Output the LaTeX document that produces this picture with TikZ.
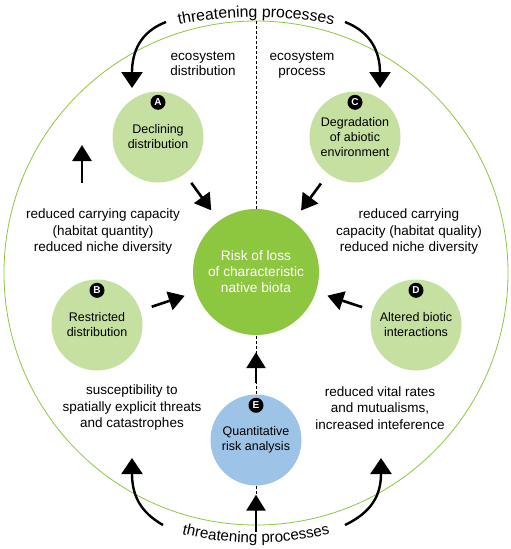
\documentclass[tikz,border=0pt]{standalone}
\usepackage{fontspec}
\setmainfont{Liberation Sans}
\usetikzlibrary{arrows.meta,decorations.text}
\definecolor{cLeaf}{RGB}{141,198,63}
\definecolor{cPale}{RGB}{197,224,160}
\definecolor{cSky}{RGB}{157,195,230}

\begin{document}
\begin{tikzpicture}[x=1pt, y=-1pt]
\useasboundingbox (0,0) rectangle (511,549);

% Styles.
\tikzset{
  ring/.style={circle, draw=cLeaf, line width=0.8pt, minimum size=504pt, inner sep=0pt},
  stage/.style={circle, fill=cPale, minimum size=91pt, inner sep=0pt, align=center, font=\fontsize{12.5}{15}\selectfont},
  core/.style={circle, fill=cLeaf, text=white, minimum size=126pt, inner sep=0pt, align=center, font=\fontsize{13.7}{16}\selectfont},
  tag/.style={circle, fill=black, text=white, minimum size=15pt, inner sep=0pt, font=\bfseries\fontsize{10}{10}\selectfont},
  note/.style={align=center, font=\fontsize{13.5}{16.5}\selectfont},
  push/.style={-{Triangle[length=16pt,width=19pt]}, line width=2.6pt},
  curl/.style={-{Triangle[length=16pt,width=21pt]}, line width=2.4pt},
  axis/.style={line width=0.9pt, dash pattern=on 3pt off 2pt}
}

% Outer ring and dashed axis.
\node (ring) [ring] at (256,273) {};
\draw[axis] (ring.north) -- (ring.south);

% Circles.
\node (risk) [core] at (256,272) {Risk of loss\\of characteristic\\native biota};
\node (A) [stage] at (158,137) {Declining\\distribution};
\node (C) [stage] at (355,137) {Degradation\\of abiotic\\environment};
\node (B) [stage] at (97,325) {Restricted\\distribution};
\node (D) [stage] at (416,325) {Altered biotic\\interactions};
\node (E) [stage, fill=cSky] at (256,440) {Quantitative\\risk analysis};

% Letter tags.
\foreach \n in {A,B,C,D,E}{
  \node[tag] (tag\n) at ([yshift=-11pt]\n.north) {\n};
}

% Side notes.
\node (distNote)   [note, font=\fontsize{13.5}{15}\selectfont] at (203,64) {ecosystem\\distribution};
\node (procNote)   [note, font=\fontsize{13.5}{15}\selectfont] at (302,65.5) {ecosystem\\process};
\node (quantNote)  [note] at (103,232) {reduced carrying capacity\\(habitat quantity)\\reduced niche diversity};
\node (qualNote)   [note] at (409,232) {reduced carrying\\capacity (habitat quality)\\reduced niche diversity};
\node (threatNote) [note] at (132,408) {susceptibility to\\spatially explicit threats\\and catastrophes};
\node (vitalNote)  [note] at (380,408) {reduced vital rates\\and mutualisms,\\increased inteference};

% Arrows into the centre.
\draw[push, shorten <=11pt, shorten >=13pt] (A) -- (risk);
\draw[push, shorten <=12pt, shorten >=13pt] (C) -- (risk);
\draw[push, shorten <=12pt, shorten >=12pt] (B) -- (risk);
\draw[push, shorten <=11pt, shorten >=12pt] (D) -- (risk);
\draw[push, shorten <=11pt, shorten >=17pt] (E) -- (risk);

% Free arrow ends.
\coordinate (tlFrom) at (166,22);
\coordinate (tlTo)   at (132,88);
\coordinate (trFrom) at (345,22);
\coordinate (trTo)   at (380,88);
\coordinate (blFrom) at (163,525);
\coordinate (blTo)   at (132,458);
\coordinate (brFrom) at (345,525);
\coordinate (brTo)   at (381,458);
\coordinate (upFrom) at (82,183);
\coordinate (upTo)   at (82,145);
\coordinate (bmFrom) at (256,532);

% Threat arrows.
\draw[curl] (tlFrom) .. controls (140,32) and (132,52) .. (tlTo);
\draw[curl] (trFrom) .. controls (371,32) and (380,52) .. (trTo);
\draw[curl] (blFrom) .. controls (140,512) and (132,495) .. (blTo);
\draw[curl] (brFrom) .. controls (372,512) and (381,495) .. (brTo);
\draw[push] (upFrom) -- (upTo);
\draw[push, shorten >=9pt] (bmFrom) -- (E);

% Curved titles.
\path[decorate, decoration={text along path, text align=center,
  text={|\fontsize{15.8}{16}\selectfont|threatening processes}}]
  (168,27.2) .. controls (226.7,13.6) and (285.3,13.6) .. (344,27.2);
\path[decorate, decoration={text along path, text align=center,
  text={|\fontsize{15.2}{16}\selectfont|threatening processes}}]
  (168,530.3) .. controls (226.7,547.2) and (285.3,547.2) .. (344,530.3);
\end{tikzpicture}
\end{document}
